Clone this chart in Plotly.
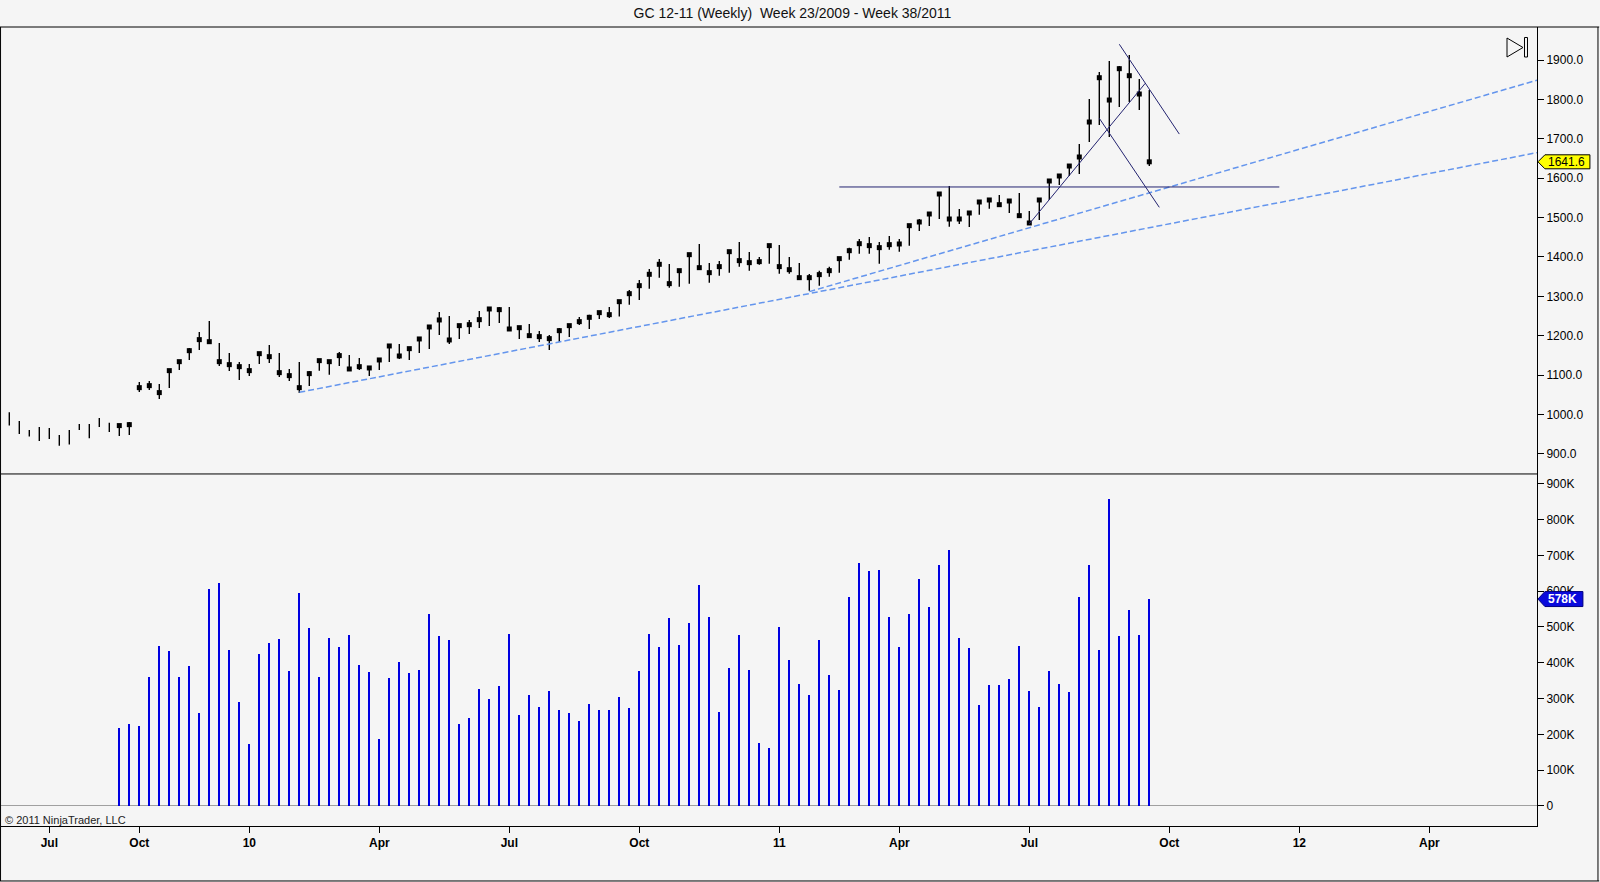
import plotly.graph_objects as go

# weekly bars, GC 12-11, week 23/2009 .. week 38/2011 (one entry per bar)
highs = [1005.7, 983.7, 960.9, 968.5, 966.0, 948.0, 961.0, 976.0, 976.0, 991.0,
         979.0, 976.0, 981.0, 1082.7, 1085.0, 1077.6, 1115.7, 1138.6, 1169.0, 1209.6,
         1237.5, 1181.7, 1156.3, 1133.5, 1128.4, 1158.9, 1176.6, 1156.3, 1115.7, 1133.5,
         1110.6, 1141.0, 1138.6, 1158.9, 1151.2, 1143.6, 1123.3, 1143.6, 1179.0, 1179.0,
         1171.6, 1196.9, 1227.4, 1260.4, 1250.2, 1229.9, 1240.1, 1262.9, 1273.1, 1273.1,
         1273.1, 1224.9, 1229.9, 1212.2, 1202.0, 1219.8, 1229.9, 1247.7, 1253.6, 1262.9,
         1273.1, 1290.9, 1316.2, 1341.6, 1369.5, 1394.9, 1382.2, 1369.5, 1410.1, 1433.0,
         1384.8, 1389.8, 1417.8, 1438.1, 1412.7, 1400.0, 1433.0, 1430.4, 1400.0, 1384.8,
         1356.8, 1365.3, 1375.5, 1398.3, 1423.7, 1445.7, 1450.8, 1438.1, 1453.3, 1445.7,
         1483.7, 1496.4, 1514.2, 1562.4, 1580.2, 1521.8, 1516.7, 1544.6, 1549.7, 1557.3,
         1547.2, 1562.4, 1516.7, 1549.7, 1597.9, 1610.6, 1636.0, 1686.8, 1801.0, 1869.5,
         1897.4, 1884.7, 1912.6, 1851.7, 1823.8]
lows = [971.9, 950.7, 944.0, 933.0, 938.0, 921.0, 924.0, 961.0, 940.0, 968.5,
        956.0, 945.7, 948.0, 1057.3, 1062.4, 1039.6, 1067.5, 1113.2, 1138.6, 1164.0,
        1179.0, 1123.3, 1110.6, 1087.8, 1098.0, 1128.4, 1131.0, 1095.4, 1085.3, 1054.8,
        1072.6, 1111.5, 1101.3, 1123.3, 1110.6, 1113.2, 1098.0, 1113.2, 1133.5, 1141.0,
        1138.6, 1156.3, 1166.5, 1202.0, 1179.0, 1191.9, 1204.5, 1219.8, 1224.9, 1232.5,
        1212.2, 1191.9, 1194.4, 1184.2, 1164.0, 1184.2, 1196.9, 1227.4, 1217.2, 1242.6,
        1245.2, 1248.6, 1279.0, 1290.9, 1319.6, 1347.5, 1322.2, 1324.7, 1332.3, 1367.0,
        1334.8, 1352.6, 1360.2, 1375.5, 1365.3, 1380.5, 1383.1, 1357.7, 1357.7, 1342.5,
        1314.5, 1327.2, 1350.1, 1360.2, 1393.2, 1408.5, 1408.5, 1383.1, 1418.6, 1413.5,
        1428.8, 1466.0, 1478.7, 1496.4, 1477.0, 1483.7, 1476.1, 1507.4, 1522.6, 1526.9,
        1511.7, 1504.9, 1485.4, 1493.9, 1544.7, 1582.7, 1605.6, 1610.6, 1691.8, 1735.0,
        1704.5, 1780.7, 1793.4, 1773.1, 1630.9]
closes = [None] * 11 + [
    972.0, 974.4, 1068.3, 1073.4, 1055.7, 1111.5, 1134.3, 1162.2, 1190.2,
    1185.0, 1134.3, 1126.7, 1121.6, 1111.5, 1154.6, 1147.0, 1106.4, 1098.8, 1068.3,
    1103.9, 1136.9, 1134.3, 1149.6, 1115.7, 1121.6, 1118.3, 1138.6, 1174.1, 1148.7,
    1167.3, 1191.9, 1222.3, 1240.1, 1189.3, 1225.7, 1228.2, 1240.9, 1268.0, 1266.3,
    1217.2, 1220.6, 1200.3, 1197.8, 1192.7, 1213.0, 1225.7, 1235.9, 1246.8, 1258.7,
    1253.6, 1286.6, 1306.9, 1327.2, 1356.0, 1381.4, 1332.3, 1365.3, 1405.9, 1372.9,
    1360.2, 1375.5, 1413.5, 1390.7, 1385.6, 1388.2, 1428.8, 1375.5, 1367.8, 1347.5,
    1347.5, 1355.2, 1365.3, 1395.8, 1416.0, 1433.8, 1428.8, 1423.7, 1431.3, 1433.0,
    1479.5, 1488.8, 1509.1, 1559.9, 1496.4, 1496.4, 1511.7, 1539.6, 1544.7, 1532.8,
    1542.1, 1504.9, 1486.3, 1544.7, 1592.9, 1605.6, 1630.9, 1653.8, 1742.6, 1855.1,
    1798.4, 1878.0, 1860.2, 1813.7, 1641.6]

# volume in thousands, first value belongs to bar 11
vol_start = 11
volumes_k = [218, 229, 223, 360, 447, 433, 360, 391, 260, 606,
             623, 436, 291, 173, 425, 455, 466, 377, 595, 497,
             360, 469, 444, 478, 394, 374, 187, 357, 402, 371,
             380, 536, 475, 464, 229, 246, 327, 299, 335, 480,
             254, 310, 276, 321, 268, 260, 237, 285, 268, 268,
             304, 274, 377, 480, 444, 525, 450, 511, 617, 528,
             263, 385, 478, 380, 176, 162, 500, 408, 341, 310,
             464, 366, 324, 584, 679, 656, 659, 528, 444, 536,
             634, 556, 673, 715, 469, 441, 282, 338, 338, 355,
             447, 321, 276, 377, 341, 318, 584, 673, 436, 857,
             475, 547, 478, 578]

tick_pos = [4, 13, 24, 37, 50, 63, 77, 89, 102, 116, 129, 142]
tick_text = ["Jul", "Oct", "10", "Apr", "Jul", "Oct", "11", "Apr", "Jul", "Oct", "12", "Apr"]

# drawn objects: (bar0, price0, bar1, price1)
dashed_lines = [(29, 1056.5, 152.8, 1665.0), (80, 1312.0, 152.8, 1849.0)]
solid_lines = [(83, 1577.7, 127, 1577.7), (102, 1484.0, 113.6, 1841.0),
               (109, 1752.0, 115, 1526.0), (111, 1940.0, 117, 1712.0)]

FONT = "Liberation Sans, Arial, sans-serif"
BG = "#f5f5f5"
SPLIT = 0.4406

hl_x, hl_y = [], []
for i, (h, l) in enumerate(zip(highs, lows)):
    hl_x += [i, i, None]
    hl_y += [l, h, None]

fig = go.Figure()
fig.add_trace(go.Scatter(x=hl_x, y=hl_y, mode="lines",
                         line=dict(color="black", width=1.4),
                         hoverinfo="skip", showlegend=False))
fig.add_trace(go.Scatter(x=list(range(len(closes))), y=closes, mode="markers",
                         marker=dict(symbol="square", size=5, color="black"),
                         showlegend=False))
fig.add_trace(go.Bar(x=[vol_start + k for k in range(len(volumes_k))],
                     y=[v * 1000 for v in volumes_k],
                     width=0.2, marker=dict(color="rgb(0,0,225)", line=dict(width=0)),
                     yaxis="y2", showlegend=False))

shapes = []
for x0, y0, x1, y1 in dashed_lines:
    shapes.append(dict(type="line", xref="x", yref="y", x0=x0, y0=y0, x1=x1, y1=y1,
                       line=dict(color="rgb(100,149,237)", width=1.5, dash="6px,3px")))
for x0, y0, x1, y1 in solid_lines:
    shapes.append(dict(type="line", xref="x", yref="y", x0=x0, y0=y0, x1=x1, y1=y1,
                       line=dict(color="#232370", width=1)))

# panel separator and outer frame
shapes.append(dict(type="line", xref="paper", yref="paper", x0=0, x1=1, y0=SPLIT, y1=SPLIT,
                   line=dict(color="black", width=1)))
frame = dict(color="black", width=1)
shapes += [
    dict(type="line", xref="paper", yref="paper", x0=-0.001, x1=1.0405, y0=1, y1=1, line=frame),
    dict(type="line", xref="paper", yref="paper", x0=-0.001, x1=1.0405, y0=-0.0688, y1=-0.0688, line=frame),
    dict(type="line", xref="paper", yref="paper", x0=-0.0003, x1=-0.0003, y0=-0.0688, y1=1, line=frame),
    dict(type="line", xref="paper", yref="paper", x0=1.0397, x1=1.0397, y0=-0.0688, y1=1, line=frame),
]
# "scroll to end" glyph
shapes += [
    dict(type="path", xref="paper", yref="paper",
         path="M 0.98047 0.98623 L 0.98047 0.96245 L 0.99089 0.97434 Z",
         line=dict(color="black", width=1)),
    dict(type="rect", xref="paper", yref="paper", x0=0.99186, x1=0.99381, y0=0.96245, y1=0.98686,
         line=dict(color="black", width=1)),
]
# last value markers on the axis
shapes.append(dict(type="path", xref="paper", yref="y", xsizemode="pixel", ysizemode="pixel",
                   xanchor=1.0006, yanchor=closes[-1],
                   path="M 0 0 L 7 7 L 52 7 L 52 -7 L 7 -7 Z",
                   fillcolor="#ffff00", line=dict(color="black", width=1)))
shapes.append(dict(type="path", xref="paper", yref="y2", xsizemode="pixel", ysizemode="pixel",
                   xanchor=1.0006, yanchor=volumes_k[-1] * 1000,
                   path="M 0 0 L 7 7.5 L 45 7.5 L 45 -7.5 L 7 -7.5 Z",
                   fillcolor="rgb(10,10,220)", line=dict(color="#000080", width=1)))

annotations = [
    dict(text="© 2011 NinjaTrader, LLC", xref="paper", yref="paper", x=0.0013, y=0.0069,
         xanchor="left", yanchor="middle", showarrow=False,
         font=dict(family=FONT, size=11, color="#222")),
    dict(text="%.1f" % closes[-1], xref="paper", yref="y", x=1.0195, y=closes[-1],
         xanchor="center", yanchor="middle", showarrow=False,
         font=dict(family=FONT, size=12, color="black")),
    dict(text="<b>%dK</b>" % volumes_k[-1], xref="paper", yref="y2", x=1.0165,
         y=volumes_k[-1] * 1000, xanchor="center", yanchor="middle", showarrow=False,
         font=dict(family=FONT, size=12, color="white")),
]

fig.update_layout(
    width=1600, height=882,
    margin=dict(l=1, r=63, t=27, b=56),
    paper_bgcolor=BG, plot_bgcolor=BG,
    font=dict(family=FONT, size=12, color="black"),
    title=dict(text="GC 12-11 (Weekly) \u00a0Week 23/2009 - Week 38/2011",
               x=0.4953, xanchor="center", y=0.985, yanchor="middle",
               font=dict(family=FONT, size=14, color="#111")),
    bargap=0,
    xaxis=dict(range=[-0.83, 152.77], anchor="y2", showgrid=False, zeroline=False,
               showline=True, linecolor="black", linewidth=1,
               ticks="outside", ticklen=6, tickcolor="black",
               tickvals=tick_pos, ticktext=["<b>%s</b>" % t for t in tick_text],
               tickfont=dict(family=FONT, size=12, color="black")),
    yaxis=dict(domain=[SPLIT, 1], range=[849.2, 1983.8], side="right", anchor="x",
               showgrid=False, zeroline=False, showline=True, linecolor="black",
               ticks="outside", ticklen=6, tickcolor="black",
               tick0=900, dtick=100, tickformat=".1f",
               tickfont=dict(family=FONT, size=12, color="black")),
    yaxis2=dict(domain=[0, SPLIT], range=[-55900, 927400], side="right", anchor="x",
                showgrid=False, zeroline=True, zerolinecolor="#a0a0a0", zerolinewidth=1,
                showline=True, linecolor="black",
                ticks="outside", ticklen=6, tickcolor="black",
                tickvals=[k * 100000 for k in range(10)],
                ticktext=["0"] + ["%dK" % (k * 100) for k in range(1, 10)],
                tickfont=dict(family=FONT, size=12, color="black")),
    shapes=shapes,
    annotations=annotations,
)

# the page's default body margin would shift the figure by 8px
fig.write_html("out.html", config={"displayModeBar": False},
               post_script="document.body.style.margin='0px';"
                           "document.body.style.overflow='hidden';")
